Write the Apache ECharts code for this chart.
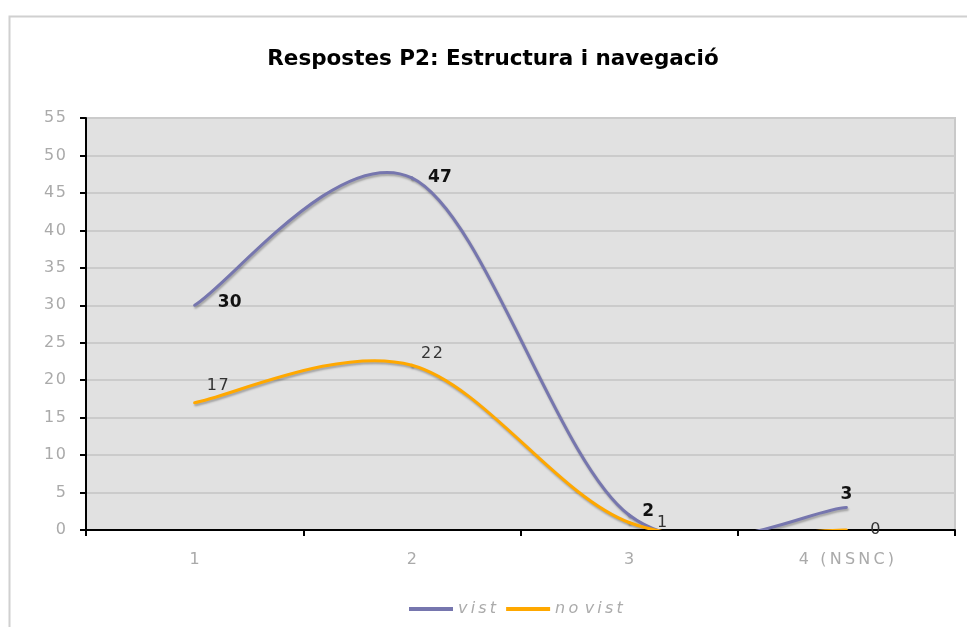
<!DOCTYPE html>
<html>
<head>
<meta charset="utf-8">
<script src="https://cdn.jsdelivr.net/npm/echarts@6/dist/echarts.min.js"></script>
<style>
    html, body { margin: 0; padding: 0; background: #fff; }
    #chart { width: 967px; height: 627px; }
</style>
</head>
<body>
<div id="chart"></div>
<script>
    // data
    var categories = ['1', '2', '3', '4 (NSNC)'];
    var vist = [30, 47, 2, 3];
    var noVist = [17, 22, 1, 0];
    var yTicks = [0, 5, 10, 15, 20, 25, 30, 35, 40, 45, 50, 55];

    // label offsets from each point, in px
    var vistLabelOffset = [[35, -3], [28, 0], [19, -3], [0, -13]];
    var noVistLabelOffset = [[23, -17], [20, -11], [33, 0], [29, 0]];

    var VIST_COLOR = '#7676ae';
    var NOVIST_COLOR = '#ffa800';
    var HAIR = '\u200A';
    var THIN = '\u2009';

    function spaced(s, sp) {
        return String(s).split('').join(sp);
    }

    // excel-like smoothed line: catmull-rom style bezier through the points
    function smoothRender(values, color, offsets, labelStyle) {
        return function (params, api) {
            var i = params.dataIndex;
            var n = values.length;
            var pt = function (k) {
                k = Math.max(0, Math.min(n - 1, k));
                return api.coord([k, values[k]]);
            };
            var children = [];
            if (i < n - 1) {
                var p0 = pt(i - 1), p1 = pt(i), p2 = pt(i + 1), p3 = pt(i + 2);
                var c1 = [p1[0] + (p2[0] - p0[0]) / 6, p1[1] + (p2[1] - p0[1]) / 6];
                var c2 = [p2[0] - (p3[0] - p1[0]) / 6, p2[1] - (p3[1] - p1[1]) / 6];
                var cs = params.coordSys;
                children.push({
                    type: 'group',
                    clipPath: {type: 'rect', shape: {x: cs.x, y: cs.y - 2, width: cs.width, height: cs.height + 2}},
                    children: [{
                        type: 'bezierCurve',
                        shape: {x1: p1[0], y1: p1[1], x2: p2[0], y2: p2[1],
                                cpx1: c1[0], cpy1: c1[1], cpx2: c2[0], cpy2: c2[1]},
                        style: {stroke: color, lineWidth: 3, fill: null, lineCap: 'round',
                                shadowColor: 'rgba(0,0,0,0.28)', shadowBlur: 2, shadowOffsetX: 1, shadowOffsetY: 2}
                    }]
                });
            }
            var p = pt(i);
            children.push({
                type: 'text', z2: 10,
                x: p[0] + offsets[i][0], y: p[1] + offsets[i][1],
                style: Object.assign({
                    text: spaced(values[i], labelStyle.sp),
                    align: 'center', verticalAlign: 'middle'
                }, labelStyle.font)
            });
            return {type: 'group', children: children};
        };
    }

    var chart = echarts.init(document.getElementById('chart'), null, {renderer: 'canvas'});
    chart.setOption({
        animation: false,
        title: {
            text: 'Respostes P2: Estructura i navegació',
            left: 488, top: 43, textAlign: 'center',
            textStyle: {fontFamily: 'DejaVu Sans', fontWeight: 'bold', fontSize: 21.5, color: '#000'}
        },
        graphic: [
            {type: 'polyline', shape: {points: [[9.5, 640], [9.5, 16.5], [980, 16.5]]},
             style: {stroke: '#d0d0d0', lineWidth: 2, fill: null}, z: 0}
        ],
        grid: {left: 86, right: 12, top: 118, bottom: 97,
               show: true, backgroundColor: '#e1e1e1', borderColor: '#c9c9c9', borderWidth: 2},
        legend: {
            top: 596, left: 404,
            itemWidth: 44, itemHeight: 4, itemGap: 10,
            textStyle: {fontFamily: 'DejaVu Sans', fontStyle: 'italic', fontSize: 16, color: '#ababab'},
            formatter: function (name) { return spaced(name, THIN).replace(THIN + ' ' + THIN, THIN + THIN); },
            data: [
                {name: 'vist', icon: 'rect', itemStyle: {color: VIST_COLOR}},
                {name: 'no vist', icon: 'rect', itemStyle: {color: NOVIST_COLOR}}
            ]
        },
        xAxis: {
            type: 'category', data: categories, boundaryGap: true,
            axisLine: {lineStyle: {color: '#000', width: 2}},
            axisTick: {show: true, length: 6, lineStyle: {color: '#000', width: 2}},
            axisLabel: {margin: 22, fontFamily: 'DejaVu Sans', fontSize: 16, color: '#aaaaaa',
                        formatter: function (v) { return spaced(v, THIN); }},
            splitLine: {show: false}
        },
        yAxis: {
            type: 'value', min: yTicks[0], max: yTicks[yTicks.length - 1], interval: 5,
            axisLine: {show: true, lineStyle: {color: '#000', width: 2}},
            axisTick: {show: true, length: 6, lineStyle: {color: '#000', width: 2}},
            axisLabel: {margin: 20, fontFamily: 'DejaVu Sans', fontSize: 16, color: '#aaaaaa',
                        formatter: function (v) { return spaced(v, HAIR); }},
            splitLine: {lineStyle: {color: '#cbcbcb', width: 2}}
        },
        series: [
            {
                name: 'vist', type: 'custom',
                data: vist.map(function (v, i) { return [i, v]; }),
                encode: {x: 0, y: 1},
                itemStyle: {color: VIST_COLOR},
                renderItem: smoothRender(vist, VIST_COLOR, vistLabelOffset,
                    {sp: '', font: {fontFamily: 'DejaVu Sans', fontWeight: 'bold', fontSize: 17, fill: '#111'}})
            },
            {
                name: 'no vist', type: 'custom',
                data: noVist.map(function (v, i) { return [i, v]; }),
                encode: {x: 0, y: 1},
                itemStyle: {color: NOVIST_COLOR},
                renderItem: smoothRender(noVist, NOVIST_COLOR, noVistLabelOffset,
                    {sp: HAIR, font: {fontFamily: 'DejaVu Sans', fontSize: 16, fill: '#333'}})
            }
        ]
    });
</script>
</body>
</html>
